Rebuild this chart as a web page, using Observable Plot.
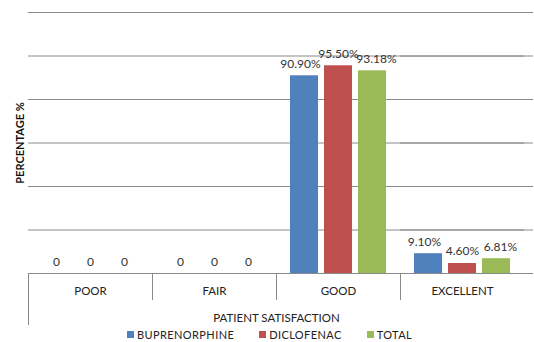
<!DOCTYPE html>
<html>
<head>
<meta charset="utf-8">
<script src="https://cdn.jsdelivr.net/npm/d3@7"></script>
<script src="https://cdn.jsdelivr.net/npm/@observablehq/plot@0.6"></script>
<style>
  html, body { margin: 0; padding: 0; background: #fff; }
  #chart { width: 534px; height: 342px; overflow: hidden; font-family: Lato, "Liberation Sans", sans-serif; }
  #chart svg { display: block; }
  #legend { height: 13px; padding-left: 127px; }
  #legend div { min-height: 0 !important; margin: 0 !important; font-family: Lato, sans-serif !important; font-size: 11px !important; color: #222 !important; line-height: 13px; }
  #legend span, #legend div > div, #legend .lg-swatch { margin-right: 25px !important; letter-spacing: 0.4px; }
  #legend svg { margin-right: 3px !important; }
</style>
</head>
<body>
<div id="chart"></div>
<script>
const categories = ["POOR", "FAIR", "GOOD", "EXCELLENT"];
const series = ["BUPRENORPHINE", "DICLOFENAC", "TOTAL"];
const buprenorphine = [0, 0, 90.90, 9.10];
const diclofenac = [0, 0, 95.50, 4.60];
const total = [0, 0, 93.18, 6.81];
const colors = ["#4F81BD", "#C0504D", "#9BBB59"];
const yTicks = [0, 20, 40, 60, 80, 100, 120];

const seriesValues = [buprenorphine, diclofenac, total];
const data = [];
categories.forEach((c, i) => {
  series.forEach((s, j) => data.push({category: c, series: s, value: seriesValues[j][i]}));
});
const fmt = v => v === 0 ? "0" : v.toFixed(2) + "%";

const W = 534, H = 328, ML = 28, MR = 10, MT = 12, MB = 55;
const step = (W - ML - MR) / categories.length;
const lastCat = categories[categories.length - 1];
const gridColor = "#8a8a8a";
const labelShift = [-4, 0, 4];
const labelStyle = {fx: "category", x: "series", y: "value", text: d => fmt(d.value), dy: -8, lineAnchor: "bottom", fill: "#333", fontSize: 12};

const plot = Plot.plot({
  width: W, height: H,
  marginLeft: ML, marginRight: MR, marginTop: MT, marginBottom: MB,
  style: {fontFamily: "Lato, 'Liberation Sans', sans-serif", fontSize: "11px", color: "#333", background: "#fff"},
  fx: {domain: categories, padding: 0, axis: null},
  x: {domain: series, paddingInner: 0.18, paddingOuter: 0.4, axis: null},
  y: {domain: [0, 120], axis: null},
  color: {domain: series, range: colors},
  marks: [
    Plot.ruleY(yTicks, {stroke: gridColor, strokeWidth: 1}),
    Plot.ruleY(yTicks.map(v => ({v, c: lastCat})), {y: "v", fx: "c", stroke: gridColor, insetRight: -9}),
    Plot.barY(data, {fx: "category", x: "series", y: "value", fill: "series"}),
    Plot.text(data, {...labelStyle, filter: d => d.value === 0}),
    ...series.map((s, j) => Plot.text(data, {
      ...labelStyle,
      filter: d => d.series === s && d.value !== 0,
      dx: labelShift[j]
    })),
    Plot.axisFx({anchor: "bottom", ticks: categories.slice(1), tickSize: 27, dx: -step / 2, text: null, label: null, stroke: gridColor}),
    Plot.axisFx({anchor: "bottom", ticks: categories.slice(0, 1), tickSize: 52, dx: -step / 2, text: null, label: null, stroke: gridColor}),
    Plot.axisFx({anchor: "bottom", tickSize: 0, tickPadding: 13, fontSize: 11.5, fill: "#222", label: "PATIENT SATISFACTION", labelAnchor: "center", labelOffset: 48}),
    Plot.text(["PERCENTAGE %"], {fx: () => categories[0], frameAnchor: "left", textAnchor: "middle", rotate: -90, dx: -8, text: d => d, fontWeight: "bold", fontSize: 11, fill: "#111"})
  ]
});

const chart = document.getElementById("chart");
chart.appendChild(plot);
const legendWrap = document.createElement("div");
legendWrap.id = "legend";
legendWrap.appendChild(plot.legend("color", {swatchSize: 7, className: "lg"}));
chart.appendChild(legendWrap);
</script>
</body>
</html>
